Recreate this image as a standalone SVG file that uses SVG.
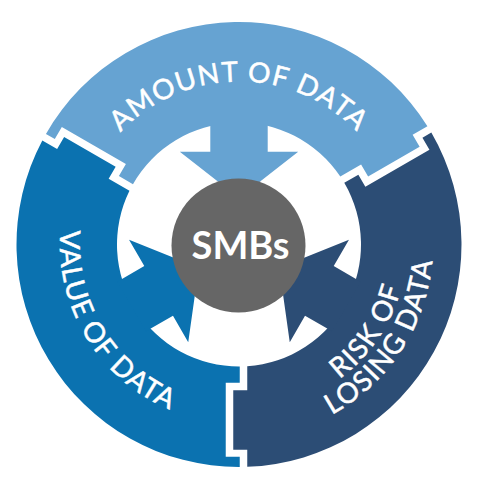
<svg xmlns="http://www.w3.org/2000/svg" width="493" height="501" viewBox="0 0 493 501">
<style>
.ring { font-family: Lato, "Open Sans", "Liberation Sans", sans-serif; font-size: 28px; fill: #ffffff; stroke: #ffffff; stroke-width: 0.5px; letter-spacing: 1.2px; }
.hub { font-family: Lato, "Open Sans", "Liberation Sans", sans-serif; font-size: 38px; font-weight: bold; fill: #ffffff; }
</style>
<defs>
<path id="seg" d="M 8.25 121.72 L 8.25 145.75 L -5.75 145.75 L -5.75 205.25 L 8.25 205.25 L 8.25 222.35 A 222.5 222.5 0 0 0 192.31 -111.9 L 183.44 -106.77 L 190.44 -94.65 L 126.35 -57.65 L 119.35 -69.77 L 105.28 -61.65 A 122 122 0 0 1 8.25 121.72 Z"/>
<path id="arrow" d="M -28.7 -124 L -28.7 -92.8 L -59.2 -92.8 L 0 -46.5 L 59.2 -92.8 L 28.7 -92.8 L 28.7 -124 Z"/>
<path id="arcTop" d="M -163 0 A 163 163 0 0 1 163 0"/>
<path id="arcSide" d="M 0 179 A 179 179 0 0 0 0 -179"/>
<path id="arcIn" d="M 0 168 A 168 168 0 0 0 0 -168"/>
<path id="arcOut" d="M 0 194 A 194 194 0 0 0 0 -194"/>
</defs>
<rect width="493" height="501" fill="#ffffff"/>
<g transform="translate(239,244.5)">
<g id="amount-of-data" fill="#66a3d2">
<use href="#seg" transform="rotate(240)"/>
<use href="#arrow"/>
<text class="ring" text-anchor="middle"><textPath href="#arcTop" startOffset="50%">AMOUNT OF DATA</textPath></text>
</g>
<g id="value-of-data" fill="#0b72b0">
<use href="#seg" transform="rotate(120)"/>
<use href="#arrow" transform="rotate(240)"/>
<text class="ring" text-anchor="middle" transform="rotate(148.5)"><textPath href="#arcSide" startOffset="50%">VALUE OF DATA</textPath></text>
</g>
<g id="risk-of-losing-data" fill="#2c4d75">
<use href="#seg"/>
<use href="#arrow" transform="rotate(120)"/>
<text class="ring" text-anchor="middle" transform="rotate(34)"><textPath href="#arcIn" startOffset="50%">RISK OF</textPath></text>
<text class="ring" text-anchor="middle" transform="rotate(33)"><textPath href="#arcOut" startOffset="50%">LOSING DATA</textPath></text>
</g>
</g>
<g id="smbs">
<circle cx="238.5" cy="245.5" r="67" fill="#666666"/>
<text class="hub" x="240.5" y="259" text-anchor="middle">SMBs</text>
</g>
<g id="connectors"></g>
</svg>
